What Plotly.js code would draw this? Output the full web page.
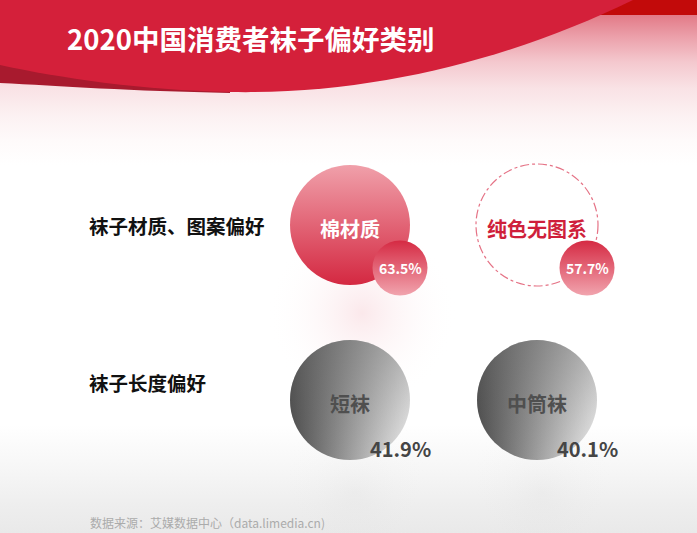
<!DOCTYPE html>
<html>
<head>
<meta charset="utf-8">
<script src="https://cdn.plot.ly/plotly-3.0.1.min.js"></script>
<style>
html,body{margin:0;padding:0;background:#ffffff;}
#chart{width:697px;height:533px;
background:linear-gradient(to bottom,#e27a87 0px,#e27a87 15px,#eca2ac 38px,#f4c8ce 62px,#f9e2e5 88px,#fcf1f2 115px,#fefafa 140px,#ffffff 165px,#ffffff 425px,#f6f6f6 470px,#eeeeee 505px,#e9e9e9 533px);}
</style>
</head>
<body>
<div id="chart"></div>
<script>
// ---- data ----
const chartTitle = '2020中国消费者袜子偏好类别';
const groups = ['袜子材质、图案偏好', '袜子材质、图案偏好', '袜子长度偏好', '袜子长度偏好'];
const categories = ['棉材质', '纯色无图系', '短袜', '中筒袜'];
const values = [63.5, 57.7, 41.9, 40.1];
const sourceNote = '数据来源：艾媒数据中心（data.limedia.cn)';

// ---- styles (not data) ----
const styleKind = ['fill', 'outline', 'gray', 'gray'];

// ---- layout geometry ----
const W = 697, H = 533;
const colPx = [350, 537], rowPx = [225, 400];
const xUnit = colPx[1] - colPx[0];
const yUnit = rowPx[1] - rowPx[0];
const xRange = [-colPx[0] / xUnit, (W - colPx[0]) / xUnit];
const yRange = [(H - rowPx[0]) / yUnit, -rowPx[0] / yUnit];
const dx = p => p / xUnit, dy = p => p / yUnit;

const rowNames = [...new Set(groups)];
const rowIdx = groups.map(g => rowNames.indexOf(g));
const colIdx = groups.map((g, i) => groups.slice(0, i).filter(h => h === g).length);
const idxOf = k => styleKind.map((s, i) => (s === k ? i : -1)).filter(i => i >= 0);
const iFill = idxOf('fill'), iOut = idxOf('outline'), iGray = idxOf('gray');
const iRed = iFill.concat(iOut).sort();

const base = {type: 'scatter', mode: 'markers', hoverinfo: 'skip', showlegend: false};
const traces = [
  Object.assign({}, base, {
    x: iFill.map(i => colIdx[i] + dx(12)), y: iFill.map(i => rowIdx[i] + dy(88)),
    marker: {size: 190, color: 'rgba(255,255,255,0)', line: {width: 0},
      gradient: {type: 'radial', color: 'rgba(236,150,163,0.22)'}}
  }),
  Object.assign({}, base, {
    x: iGray.map(i => colIdx[i] + dx(5)), y: iGray.map(i => rowIdx[i] + dy(92)),
    marker: {size: 170, color: 'rgba(255,255,255,0)', line: {width: 0},
      gradient: {type: 'radial', color: 'rgba(190,190,190,0.10)'}}
  }),
  Object.assign({}, base, {
    x: iFill.map(i => colIdx[i]), y: iFill.map(i => rowIdx[i]),
    marker: {size: 120, color: '#f0a0aa', line: {width: 0},
      gradient: {type: 'vertical', color: '#d42841'}}
  }),
  Object.assign({}, base, {
    x: iGray.map(i => colIdx[i]), y: iGray.map(i => rowIdx[i]),
    marker: {size: 120, color: '#4c4c4c', line: {width: 0},
      gradient: {type: 'horizontal', color: '#f0f0f0'}}
  }),
  Object.assign({}, base, {
    x: iGray.map(i => colIdx[i]), y: iGray.map(i => rowIdx[i]),
    marker: {size: 120, color: 'rgba(100,100,100,0.45)', line: {width: 0},
      gradient: {type: 'vertical', color: 'rgba(100,100,100,0)'}}
  }),
  Object.assign({}, base, {
    x: iRed.map(i => colIdx[i] + dx(50)), y: iRed.map(i => rowIdx[i] + dy(43)),
    marker: {size: 55, color: '#d52a43', line: {width: 0},
      gradient: {type: 'vertical', color: '#f1a4ae'}}
  })
];

const CJK = '"Noto Sans CJK SC", "Noto Sans", sans-serif';
const catColor = {fill: '#ffffff', outline: '#cf1f3b', gray: '#4f4f4f'};
const annotations = [];
annotations.push({xref: 'paper', yref: 'paper', x: 65 / W, y: 1 - 38 / H, xanchor: 'left', yanchor: 'middle',
  text: chartTitle, showarrow: false, font: {family: CJK, size: 27.5, color: '#ffffff', weight: 700}});
const rowShift = [0, 18];
rowNames.forEach((r, k) => annotations.push({xref: 'paper', yref: 'y', x: 87 / W, y: k, yshift: rowShift[k],
  xanchor: 'left', yanchor: 'middle', text: r, showarrow: false,
  font: {family: CJK, size: 19.5, color: '#111111', weight: 700}}));
categories.forEach((c, i) => annotations.push({xref: 'x', yref: 'y', x: colIdx[i], y: rowIdx[i], yshift: -3,
  xanchor: 'center', yanchor: 'middle', text: c, showarrow: false,
  font: {family: CJK, size: 20, color: catColor[styleKind[i]], weight: 700}}));
values.forEach((v, i) => {
  const gray = styleKind[i] === 'gray';
  annotations.push({xref: 'x', yref: 'y', x: colIdx[i] + dx(50), y: rowIdx[i] + dy(gray ? 48 : 43),
    xanchor: 'center', yanchor: 'middle', text: v.toFixed(1) + '%', showarrow: false,
    font: {family: CJK, size: gray ? 20 : 14, color: gray ? '#454545' : '#ffffff', weight: 700}});
});
annotations.push({xref: 'paper', yref: 'paper', x: 88 / W, y: 1 - 522 / H, xanchor: 'left', yanchor: 'middle',
  text: sourceNote, showarrow: false, font: {family: CJK, size: 12, color: '#ababab'}});

// banner decoration (pixel -> paper)
const P = (x, y) => (x / W).toFixed(5) + ',' + (1 - y / H).toFixed(5);
const shapes = [
  {type: 'rect', xref: 'paper', yref: 'paper', x0: 560 / W, x1: 1, y0: 1 - 15 / H, y1: 1,
    fillcolor: '#c20a0a', line: {width: 0}, layer: 'below'},
  {type: 'path', xref: 'paper', yref: 'paper', layer: 'below', fillcolor: '#a81a2e', line: {width: 0},
    path: 'M' + P(0, 55) + ' L' + P(0, 83) + ' C' + P(60, 86) + ' ' + P(130, 91) + ' ' + P(230, 93) + ' L' + P(230, 80) + ' Z'},
  {type: 'path', xref: 'paper', yref: 'paper', layer: 'below', fillcolor: '#d4203a', line: {width: 0},
    path: 'M' + P(0, 0) + ' L' + P(633, 0) + ' C' + P(520, 55) + ' ' + P(380, 95) + ' ' + P(230, 92) +
      ' C' + P(140, 90) + ' ' + P(60, 78) + ' ' + P(0, 65) + ' Z'}
];
iOut.forEach(i => shapes.push({type: 'circle', xref: 'x', yref: 'y', xsizemode: 'pixel', ysizemode: 'pixel',
  xanchor: colIdx[i], yanchor: rowIdx[i], x0: -61, x1: 61, y0: -61, y1: 61, layer: 'below',
  fillcolor: 'rgba(255,255,255,0)', line: {color: '#e57386', width: 1.2, dash: 'dashdot'}}));

const layout = {
  width: W, height: H, margin: {l: 0, r: 0, t: 0, b: 0, pad: 0},
  paper_bgcolor: 'rgba(0,0,0,0)', plot_bgcolor: 'rgba(0,0,0,0)',
  xaxis: {range: xRange, visible: false, showgrid: false, zeroline: false, fixedrange: true},
  yaxis: {range: yRange, visible: false, showgrid: false, zeroline: false, fixedrange: true},
  shapes: shapes, annotations: annotations, showlegend: false
};
Plotly.newPlot('chart', traces, layout, {displayModeBar: false, staticPlot: true});
</script>
</body>
</html>
